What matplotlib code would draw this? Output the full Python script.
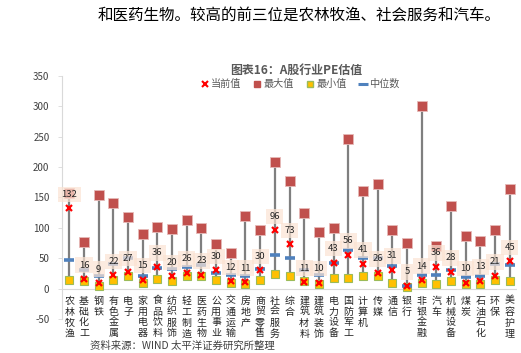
import matplotlib
matplotlib.use("Agg")
import matplotlib.pyplot as plt
from matplotlib.lines import Line2D
import numpy as np

plt.rcParams['font.family'] = ['Noto Sans CJK SC', 'DejaVu Sans']

categories = ['农林牧渔', '基础化工', '钢铁', '有色金属', '电子', '家用电器', '食品饮料', '纺织服饰',
              '轻工制造', '医药生物', '公用事业', '交通运输', '房地产', '商贸零售', '社会服务', '综合',
              '建筑材料', '建筑装饰', '电力设备', '国防军工', '计算机', '传媒', '通信', '银行',
              '非银金融', '汽车', '机械设备', '煤炭', '石油石化', '环保', '美容护理']
current_pe = [132, 16, 9, 22, 27, 15, 36, 20, 26, 23, 30, 12, 11, 30, 96, 73, 11, 10, 43, 56,
              41, 26, 31, 5, 14, 36, 28, 10, 13, 21, 45]
max_pe = [158, 76, 154, 141, 118, 90, 101, 98, 113, 99, 74, 58, 120, 96, 209, 177, 125, 93, 100,
          246, 160, 172, 96, 75, 300, 70, 136, 87, 78, 96, 164]
min_pe = [15, 13, 5, 14, 20, 10, 16, 13, 20, 21, 14, 9, 7, 14, 24, 21, 12, 7, 18, 18, 20, 20,
          9, 3, 10, 7, 12, 7, 8, 15, 12]
median_pe = [47, 30, 20, 40, 50, 20, 34, 32, 35, 39, 26, 22, 21, 33, 55, 51, 31, 23, 42, 64,
             50, 50, 38, 5, 22, 22, 31, 19, 21, 41, 39]
yticks = [-50, 0, 50, 100, 150, 200, 250, 300, 350]

W, H = 521, 353
fig = plt.figure(figsize=(W / 100, H / 100), dpi=100)
ax = fig.add_axes([62 / W, 1 - 319 / H, (517 - 62) / W, (319 - 76) / H])

x = np.arange(len(categories))
ax.vlines(x, min_pe, max_pe, color='#7f7f7f', lw=1.6, zorder=1)
ax.plot(x, max_pe, 's', color='#C0504D', mec='#E6B9B8', mew=0.6, ms=6.5, zorder=2)
ax.plot(x, min_pe, 's', color='#FFC000', mec='#9BBB59', mew=0.8, ms=5.2, zorder=2)
ax.plot(x, median_pe, '_', color='#4F81BD', ms=7, mew=2.6, zorder=3)
ax.plot(x, current_pe, 'x', color='#FF0000', ms=5, mew=1.6, zorder=4)

for xi, v in zip(x, current_pe):
    ax.annotate(str(v), (xi, v), xytext=(0, 10), textcoords='offset points',
                ha='center', va='center', fontsize=6.8, color='#262626', zorder=5,
                bbox=dict(boxstyle='square,pad=0.35', fc='#FBE3D3', ec='none', alpha=0.7))

ax.set_xlim(-0.5, len(categories) - 0.5)
ax.set_ylim(-50, 350)
ax.set_yticks(yticks)
ax.set_yticklabels([str(t) for t in yticks], fontsize=7, color='#404040')
ax.tick_params(axis='y', length=3, width=0.6, color='#D9D9D9', pad=6)
ax.set_xticks([])
for s in ['top', 'right', 'bottom']:
    ax.spines[s].set_visible(False)
ax.spines['left'].set_color('#D9D9D9')
ax.spines['left'].set_linewidth(0.8)
ax.axhline(0, color='#D9D9D9', lw=0.8, zorder=0)

# vertical category labels below the zero line
for xi, c in zip(x, categories):
    ax.annotate('\n'.join(c), (xi, 0), xytext=(0, -5), textcoords='offset points',
                ha='center', va='top', fontsize=7.2, color='#262626', linespacing=1.12,
                annotation_clip=False)

fig.text(299 / W, 1 - 15 / H, '和医药生物。较高的前三位是农林牧渔、社会服务和汽车。',
         ha='center', va='center', fontsize=11.2, color='#000000')
fig.text(296 / W, 1 - 70 / H, '图表16：A股行业PE估值', ha='center', va='center',
         fontsize=8.6, fontweight='bold', color='#595959')

handles = [
    Line2D([], [], ls='none', marker='x', color='#FF0000', ms=4.5, mew=1.5),
    Line2D([], [], ls='none', marker='s', color='#C0504D', ms=5),
    Line2D([], [], ls='none', marker='s', color='#FFC000', mec='#9BBB59', ms=5),
    Line2D([], [], ls='none', marker='_', color='#4F81BD', ms=7, mew=2.2),
]
fig.legend(handles, ['当前值', '最大值', '最小值', '中位数'], loc='center',
           bbox_to_anchor=(300 / W, 1 - 84 / H), ncol=4, frameon=False, fontsize=7.3,
           handlelength=0.8, handletextpad=0.2, columnspacing=1.2, labelcolor='#595959')

fig.text(90 / W, 1 - 346 / H, '资料来源：WIND 太平洋证券研究所整理', ha='left', va='center',
         fontsize=7.5, color='#404040')

fig.savefig('out.png', dpi=100)
